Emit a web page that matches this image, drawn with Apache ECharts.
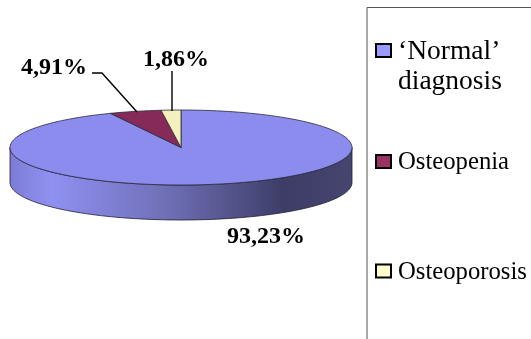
<!DOCTYPE html>
<html>
<head>
<meta charset="utf-8">
<style>html,body{margin:0;padding:0;background:#fff;overflow:hidden}#chart{width:531px;height:339px}</style>
<script src="https://cdn.jsdelivr.net/npm/echarts@6/dist/echarts.min.js"></script>
</head>
<body>
<div id="chart"></div>
<script>
// Bone-density diagnosis shares, drawn as a tilted pie with a raised rim.
const categories = ['‘Normal’', 'Osteopenia', 'Osteoporosis'];
const shares = [93.23, 4.91, 1.86];
const colors = ['#8c8cee', '#862a5a', '#f3f0bc'];
const swatches = ['#9999ff', '#993366', '#ffffcc'];

const CX = 181, CY = 147.5, RX = 171, RY = 37.5, DEPTH = 35;
const FONT = '"Liberation Serif", "Times New Roman", serif';

function rimPoint(deg, dy) {
  const a = deg * Math.PI / 180;
  return [CX + RX * Math.sin(a), CY - RY * Math.cos(a) + (dy || 0)];
}
function arc(from, to, dy) {
  const pts = [];
  const n = Math.max(2, Math.ceil((to - from) / 2));
  for (let i = 0; i <= n; i++) pts.push(rimPoint(from + (to - from) * i / n, dy));
  return pts;
}
function startAngle(index) {
  let sum = 0;
  for (let i = 0; i < index; i++) sum += shares[i];
  return sum * 3.6;
}
const rimFill = new echarts.graphic.LinearGradient(0, 0, 1, 0, [
  { offset: 0, color: '#7c7cd6' },
  { offset: 0.12, color: '#9090f2' },
  { offset: 0.45, color: '#7070b8' },
  { offset: 0.8, color: '#3d3d68' },
  { offset: 1, color: '#45456f' }
]);

function renderSlice(index) {
  return function (params, api) {
    const start = startAngle(index);
    const end = start + api.value(0) * 3.6;
    const children = [];
    if (index === 0) {
      const front = arc(90, 270, 0).concat(arc(90, 270, DEPTH).reverse());
      children.push({
        type: 'polygon', shape: { points: front },
        style: { fill: rimFill, stroke: '#20202e', lineWidth: 0.8 }
      });
    }
    children.push({
      type: 'polygon',
      shape: { points: [[CX, CY]].concat(arc(start, end, 0)) },
      style: { fill: colors[index], stroke: '#2a2a38', lineWidth: 0.8 }
    });
    return { type: 'group', children };
  };
}

const series = categories.map((name, i) => ({
  type: 'custom',
  name,
  coordinateSystem: 'none',
  silent: true,
  clip: false,
  data: [[shares[i]]],
  itemStyle: { color: swatches[i] },
  renderItem: renderSlice(i)
}));

const pct = v => v.toFixed(2).replace('.', ',') + '%';
const labelStyle = { font: 'bold 24px ' + FONT, fill: '#000' };
const line = points => ({
  type: 'polyline', z: 10, silent: true,
  shape: { points },
  style: { stroke: '#000', lineWidth: 1.4, fill: null }
});
const label = (text, x, y) => ({
  type: 'text', z: 10, silent: true, x, y,
  style: Object.assign({ text, textVerticalAlign: 'middle', textBaseline: 'middle' }, labelStyle)
});

const chart = echarts.init(document.getElementById('chart'), null, { renderer: 'canvas' });
chart.setOption({
  backgroundColor: '#fff',
  animation: false,
  legend: {
    orient: 'vertical',
    left: 375,
    top: 35,
    padding: 0,
    icon: 'rect',
    itemWidth: 15,
    itemHeight: 13,
    itemGap: 81.5,
    data: categories,
    itemStyle: { borderColor: '#000', borderWidth: 2 },
    formatter: name => name === categories[0] ? '{big|' + name + '}' : '{small|' + name + '}',
    textStyle: {
      fontFamily: FONT, color: '#000',
      rich: {
        big: { fontFamily: FONT, fontSize: 27.5, color: '#000', padding: [3, 0, 0, 2], lineHeight: 26 },
        small: { fontFamily: FONT, fontSize: 24.7, color: '#000', padding: [3, 0, 0, 2], lineHeight: 26 }
      }
    },
    selectedMode: false
  },
  graphic: [
    {
      type: 'polyline', silent: true,
      shape: { points: [[367, 339], [367, 7.5], [531, 7.5]] },
      style: { stroke: '#555', lineWidth: 1, fill: null }
    },
    {
      type: 'text', silent: true, x: 398, y: 82,
      style: { text: 'diagnosis', font: '27.5px ' + FONT, fill: '#000', textVerticalAlign: 'middle', textBaseline: 'middle' }
    },
    line([[92, 73], [102, 73], [137, 112]]),
    line([[172, 71], [172, 111]]),
    label(pct(shares[1]), 21, 68),
    label(pct(shares[2]), 143, 60),
    label(pct(shares[0]), 227, 237)
  ],
  series
});
</script>
</body>
</html>
